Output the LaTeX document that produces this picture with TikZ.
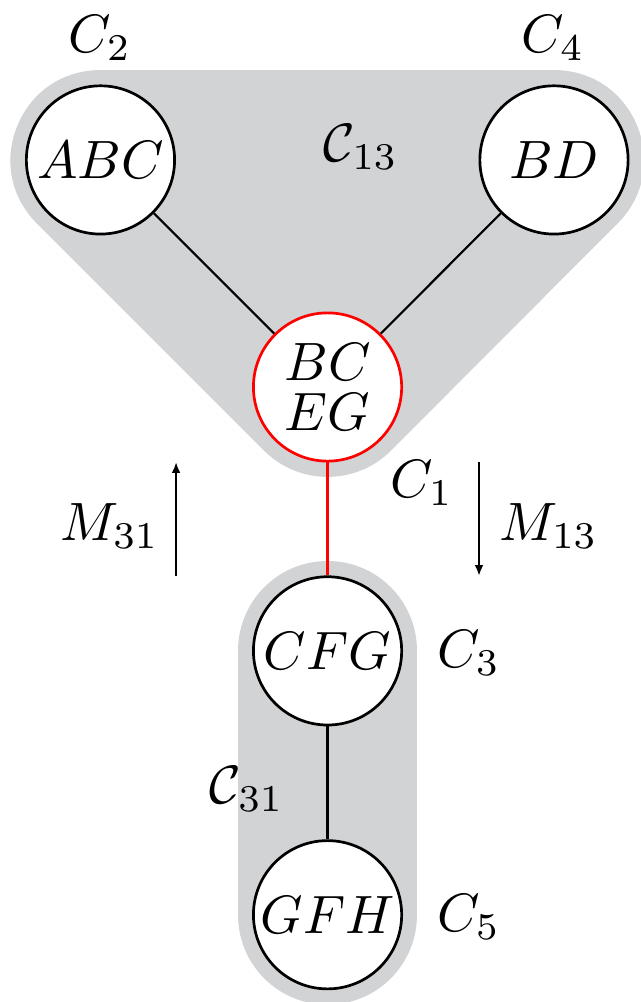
\documentclass[tikz,border=0pt]{standalone}
\usepackage{amsmath,amssymb}
\usepackage{xcolor}
\usepackage{tikz}
\usetikzlibrary{positioning,arrows.meta,backgrounds}
\definecolor{cgrisclaro}{HTML}{D1D3D4}
\definecolor{crojo}{HTML}{FF0000}
\tikzset{
  clique/.style={circle, draw=black, fill=white, line width=0.5pt,
    minimum size=0.965cm, inner sep=0pt, align=center},
  cliquer/.style={clique, draw=crojo},
  arista/.style={line width=0.4pt, draw=black},
  aristar/.style={line width=0.4pt, draw=crojo},
  mensaje/.style={-{Latex[length=2pt,width=1.6pt]}, line width=0.4pt},
  cubierta/.style={draw=cgrisclaro, fill=cgrisclaro, line width=1.17cm,
    line join=round, line cap=round},
}
\begin{document}
\begin{tikzpicture}
  \useasboundingbox (0,0) rectangle (4.166,6.522);
  \node[clique] (abc) at (0.654,5.481) {$ABC$};
  \node[clique] (bd) at (3.606,5.481) {$BD$};
  \node[cliquer] (bceg) at (2.132,4.003) {$BC$\\[-2.8pt]$EG$};
  \node[clique, below=0.735cm of bceg] (cfg) {$CFG$};
  \node[clique, below=0.735cm of cfg] (gfh) {$GFH$};
  \draw[arista] (abc) -- (bceg);
  \draw[arista] (bd) -- (bceg);
  \draw[aristar] (bceg) -- (cfg);
  \draw[arista] (cfg) -- (gfh);
  % etiquetas
  \node (c2) at (0.651,6.275) {$C_2$};
  \node (c4) at (3.600,6.275) {$C_4$};
  \node (c13) at (2.350,5.565) {$\mathcal{C}_{13}$};
  \node (c1) at (2.747,3.378) {$C_1$};
  \node (c3) at (3.053,2.272) {$C_3$};
  \node (c5) at (3.053,0.553) {$C_5$};
  \node (c31) at (1.608,1.386) {$\mathcal{C}_{31}$};
  \node (m31) at (0.716,3.098) {$M_{31}$};
  \node (m13) at (3.573,3.098) {$M_{13}$};
  % mensajes
  \coordinate (m31a) at (1.146,2.773);
  \coordinate (m31b) at (1.146,3.515);
  \coordinate (m13a) at (3.118,3.515);
  \coordinate (m13b) at (3.118,2.773);
  \draw[mensaje] (m31a) -- (m31b);
  \draw[mensaje] (m13a) -- (m13b);
  \begin{scope}[on background layer]
    \draw[cubierta] (abc.center) -- (bd.center) -- (bceg.center) -- cycle;
    \draw[cubierta] (cfg.center) -- (gfh.center);
  \end{scope}
\end{tikzpicture}
\end{document}
